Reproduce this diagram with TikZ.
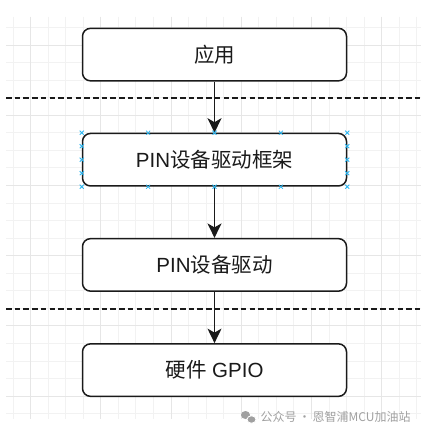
\documentclass[tikz,border=0pt]{standalone}
\usepackage{fontspec}
\setmainfont{Liberation Sans}
\newfontfamily\cjk{Noto Sans CJK SC}
\usetikzlibrary{arrows.meta,calc,shapes.geometric}
\definecolor{gridminor}{HTML}{F2F2F2}
\definecolor{gridmajor}{HTML}{E6E6E6}
\definecolor{inkc}{HTML}{1A1A1A}
\definecolor{selblue}{HTML}{29B6F2}
\definecolor{wmgrey}{HTML}{A0A0A0}
\tikzset{
  layerbox/.style={draw=inkc, line width=1.5pt, rounded corners=8pt, fill=white,
    minimum width=264pt, minimum height=52.5pt, inner sep=0pt,
    font=\fontsize{20.5pt}{24pt}\selectfont, text=inkc},
  flow/.style={draw=inkc, line width=1.4pt, -{Stealth[length=14.5pt,width=14pt,inset=4pt]}},
  divider/.style={draw=inkc, line width=1.8pt, dash pattern=on 5.5pt off 3.2pt},
  selmark/.style={draw=selblue, line width=0.8pt},
}
\newcommand{\selx}[1]{\draw[selmark] ($(#1)+(-2pt,-2pt)$) -- ($(#1)+(2pt,2pt)$) ($(#1)+(-2pt,2pt)$) -- ($(#1)+(2pt,-2pt)$);}
\begin{document}
\begin{tikzpicture}[x=1pt,y=-1pt]
\useasboundingbox (0,0) rectangle (421,435);
\fill[white] (0,0) rectangle (421,435);
% grid
\foreach \k in {-5,...,18} {
  \pgfmathsetmacro{\xx}{100.7+17.55*\k}
  \draw[gridminor, line width=0.7pt] (\xx,17) -- (\xx,419);
}
\foreach \k in {-1,...,21} {
  \pgfmathsetmacro{\yy}{45+17.55*\k}
  \draw[gridminor, line width=0.7pt] (6,\yy) -- (421,\yy);
}
\foreach \k in {-1,0,...,4} {
  \pgfmathsetmacro{\xx}{100.7+70.2*\k}
  \draw[gridmajor, line width=0.7pt] (\xx,17) -- (\xx,419);
}
\foreach \k in {0,...,5} {
  \pgfmathsetmacro{\yy}{45+70.2*\k}
  \draw[gridmajor, line width=0.7pt] (6,\yy) -- (421,\yy);
}
% dividers
\coordinate (d1l) at (6,98.3);
\coordinate (d1r) at (421,98.3);
\coordinate (d2l) at (6,308.7);
\coordinate (d2r) at (421,308.7);
\draw[divider] (d1l) -- (d1r);
\draw[divider] (d2l) -- (d2r);
% boxes
\node[layerbox] (app) at (214.5,54.6) {{\cjk 应用}};
\node[layerbox] (fw) at (214.5,159.7) {PIN{\cjk 设备驱动框架}};
\node[layerbox] (drv) at (214.5,264.9) {PIN{\cjk 设备驱动}};
\node[layerbox] (hw) at (214.5,370.1) {{\cjk 硬件} GPIO};
% arrows
\draw[flow] (app.south) -- (fw.north);
\draw[flow] (fw.south) -- (drv.north);
\draw[flow] (drv.south) -- (hw.north);
% selection markers
\foreach \p in {north west, north, north east, south west, south, south east} {\selx{fw.\p}}
\selx{$(fw.north west)!0.25!(fw.north east)$}
\selx{$(fw.north west)!0.75!(fw.north east)$}
\selx{$(fw.south west)!0.25!(fw.south east)$}
\selx{$(fw.south west)!0.75!(fw.south east)$}
\foreach \f in {0.25,0.5,0.75} {
  \selx{$(fw.north west)!\f!(fw.south west)$}
  \selx{$(fw.north east)!\f!(fw.south east)$}
}
% watermark
\node[fill=wmgrey, ellipse, minimum width=9pt, minimum height=8pt, inner sep=0pt] (wc1) at (245.5,415) {};
\node[draw=white, line width=0.8pt, fill=wmgrey, ellipse, minimum width=9pt, minimum height=7.5pt, inner sep=0pt] (wc2) at (251.5,419.5) {};
\node[anchor=west, text=wmgrey, inner sep=0pt, font=\cjk\fontsize{12pt}{14pt}\selectfont] (wm) at (260.5,417) {公众号\,·\,恩智浦MCU加油站};
\end{tikzpicture}
\end{document}
